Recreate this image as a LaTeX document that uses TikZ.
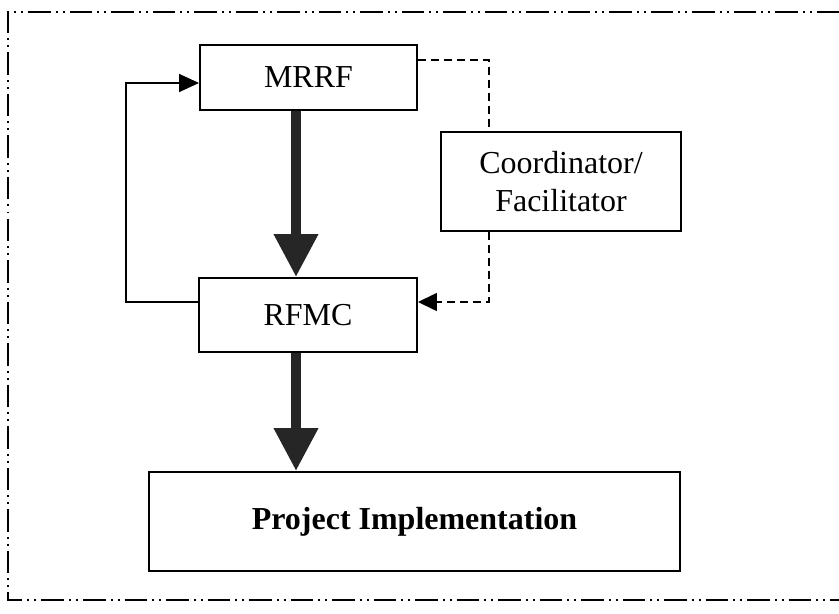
\documentclass[tikz,border=0pt]{standalone}
\usepackage{fontspec}
\setmainfont{Liberation Serif}
\usepackage{tikz}
\usetikzlibrary{arrows.meta,positioning,calc}

\begin{document}
\begin{tikzpicture}[
  box/.style={draw, line width=1.1pt, fill=white, inner sep=0pt, font=\fontsize{18.2}{21.6}\selectfont},
  bigarrow/.style={line width=0.2cm, draw=black!85, -{Triangle[length=0.86cm, width=0.84cm, black!85]}},
  fbline/.style={line width=0.85pt, -{Triangle[length=0.4cm, width=0.36cm]}},
  dashline/.style={line width=0.85pt, dash pattern=on 0.17cm off 0.09cm},
  frame/.style={line width=1.1pt, dash pattern=on 0.45cm off 0.1cm on 0.04cm off 0.1cm on 0.04cm off 0.1cm}
]
\useasboundingbox (0,0) rectangle (16.78,12.26);
% outer frame (open on the right)
\draw[frame] (16.78,12.02) -- (0.16,12.02) -- (0.16,0.26) -- (16.78,0.26);
% boxes
\node(mrrf) [box, minimum width=4.34cm, minimum height=1.30cm] at (6.17,10.71) {MRRF};
\node(rfmc) [box, minimum width=4.36cm, minimum height=1.48cm] at (6.16,5.96) {RFMC};
\node(coord) [box, minimum width=4.8cm, minimum height=1.98cm, align=center] at (11.22,8.63) {Coordinator/\\Facilitator};
\node(proj) [box, minimum width=10.62cm, minimum height=1.98cm] at (8.29,1.83) {\textbf{Project Implementation}};
% main flow
\draw[bigarrow] ([xshift=-0.25cm]mrrf.south) coordinate(a) -- (a |- rfmc.north);
\draw[bigarrow] ([xshift=-0.24cm]rfmc.south) coordinate(b) -- (b |- proj.north);
% feedback
\draw[fbline] ([yshift=0.26cm]rfmc.west) -- ++(-1.44,0) |- ([yshift=-0.11cm]mrrf.west);
% coordinator links
\coordinate (dx) at (9.78,0);
\draw[dashline] ([yshift=0.35cm]mrrf.east) -| (dx |- coord.north);
\draw[dashline] (dx |- coord.south) |- ([yshift=0.26cm]rfmc.east) coordinate(c);
\draw[line width=0.85pt, -{Triangle[length=0.38cm, width=0.36cm]}] ([xshift=0.3cm]c) -- (c);
\end{tikzpicture}
\end{document}
